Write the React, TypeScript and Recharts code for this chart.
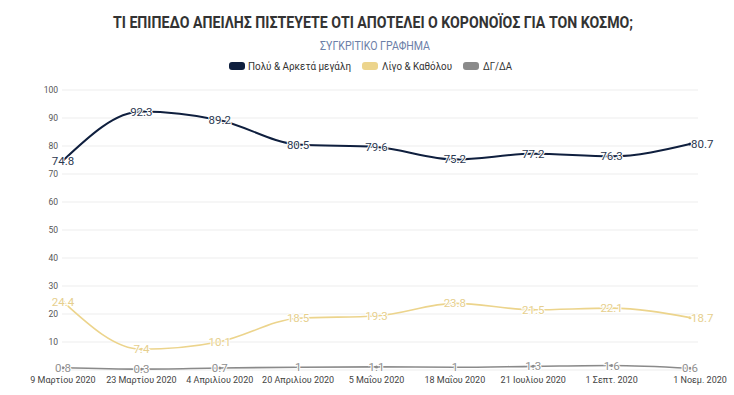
import React from 'react';
import { LineChart, Line, XAxis, YAxis, CartesianGrid, LabelList } from 'recharts';

const categories = [
  '9 Μαρτίου 2020',
  '23 Μαρτίου 2020',
  '4 Απριλίου 2020',
  '20 Απριλίου 2020',
  '5 Μαΐου 2020',
  '18 Μαΐου 2020',
  '21 Ιουλίου 2020',
  '1 Σεπτ. 2020',
  '1 Νοεμ. 2020',
];
const seriesHigh = [74.8, 92.3, 89.2, 80.5, 79.6, 75.2, 77.2, 76.3, 80.7];
const seriesLow = [24.4, 7.4, 10.1, 18.5, 19.3, 23.8, 21.5, 22.1, 18.7];
const seriesNA = [0.8, 0.3, 0.7, 1, 1.1, 1, 1.3, 1.6, 0.6];
const yTicks = [10, 20, 30, 40, 50, 60, 70, 80, 90, 100];
const seriesNames = ['Πολύ & Αρκετά μεγάλη', 'Λίγο & Καθόλου', 'ΔΓ/ΔΑ'];
const seriesKeys = ['high', 'low', 'na'];
const lineColors = ['#0f1f3e', '#ecd48c', '#8a8a8a'];
const labelColors = ['#2c3850', '#e6cf8e', '#8f8f8f'];
const titleText = 'ΤΙ ΕΠΙΠΕΔΟ ΑΠΕΙΛΗΣ ΠΙΣΤΕΥΕΤΕ ΟΤΙ ΑΠΟΤΕΛΕΙ Ο ΚΟΡΟΝΟΪΟΣ ΓΙΑ ΤΟΝ ΚΟΣΜΟ;';
const subtitleText = 'ΣΥΓΚΡΙΤΙΚΟ ΓΡΑΦΗΜΑ';

const data = categories.map((c, i) => ({
  date: c,
  high: seriesHigh[i],
  low: seriesLow[i],
  na: seriesNA[i],
}));

const lastIndex = categories.length - 1;

const fmt = (v: number) => (Number.isInteger(v) ? String(v) : v.toFixed(1));

const makeLabel = (color: string, shiftLast: boolean) => (props: any) => {
  const { x, y, value, index } = props;
  const isLast = shiftLast && index === lastIndex;
  return (
    <text
      x={isLast ? x + 1 : x}
      y={y}
      textAnchor={isLast ? 'start' : 'middle'}
      dominantBaseline="central"
      fill={color}
      stroke="#ffffff"
      strokeWidth={2}
      paintOrder="stroke"
      fontSize={11.5}
      fontFamily="Roboto, sans-serif"
    >
      {fmt(value)}
    </text>
  );
};

const XTick = (props: any) => {
  const { x, y, payload, index } = props;
  const dx = index === lastIndex ? 10 : 0;
  return (
    <text
      x={x + dx}
      y={y}
      dy="0.71em"
      textAnchor="middle"
      fontSize={9}
      fill="#444"
      fontFamily="Roboto, sans-serif"
    >
      {payload.value}
    </text>
  );
};

const legendLayout = [
  { sx: 229, tx: 248, tw: 103 },
  { sx: 362, tx: 382, tw: 70 },
  { sx: 463, tx: 483, tw: 29 },
];

export default function App() {
  return (
    <div style={{ position: 'absolute', left: 0, top: 0, width: 734, height: 395, background: '#fff' }}>
      <LineChart
        width={734}
        height={395}
        data={data}
        margin={{ top: 90, right: 36, bottom: 0, left: 0 }}
      >
        <CartesianGrid horizontal vertical={false} stroke="#ededed" />
        <XAxis
          dataKey="date"
          height={25}
          axisLine={false}
          tickLine={false}
          tickSize={0}
          tickMargin={7}
          interval={0}
          padding={{ left: 1, right: 8 }}
          tick={<XTick />}
        />
        <YAxis
          width={62}
          domain={[0, 100]}
          ticks={yTicks}
          axisLine={false}
          tickLine={false}
          tickSize={0}
          tickMargin={4}
          tick={{ fontSize: 8.5, fill: '#555', fontFamily: 'Roboto, sans-serif' }}
        />
        {seriesKeys.map((k, i) => (
          <Line
            key={k}
            type="monotone"
            dataKey={k}
            name={seriesNames[i]}
            stroke={lineColors[i]}
            strokeWidth={i === 0 ? 2 : 1.6}
            dot={{ r: 1.5, fill: lineColors[i], stroke: lineColors[i], strokeWidth: 0 }}
            isAnimationActive={false}
          >
            <LabelList dataKey={k} content={makeLabel(labelColors[i], i < 2)} />
          </Line>
        ))}
      </LineChart>
      <svg
        width={734}
        height={80}
        style={{ position: 'absolute', left: 0, top: 0, pointerEvents: 'none' }}
      >
        <text
          x={113}
          y={28}
          fontSize={16}
          fontWeight="bold"
          fill="#333"
          fontFamily="Roboto, sans-serif"
          textLength={520}
          lengthAdjust="spacingAndGlyphs"
        >
          {titleText}
        </text>
        <text
          x={320}
          y={50}
          fontSize={12}
          fill="#6c80a8"
          fontFamily="Roboto, sans-serif"
          textLength={110}
          lengthAdjust="spacingAndGlyphs"
        >
          {subtitleText}
        </text>
        {seriesNames.map((n, i) => (
          <g key={n}>
            <rect x={legendLayout[i].sx} y={62} width={16} height={8} rx={3} fill={lineColors[i]} />
            <text
              x={legendLayout[i].tx}
              y={70}
              fontSize={11}
              fill="#333"
              fontFamily="Roboto, sans-serif"
              textLength={legendLayout[i].tw}
              lengthAdjust="spacingAndGlyphs"
            >
              {n}
            </text>
          </g>
        ))}
      </svg>
    </div>
  );
}
